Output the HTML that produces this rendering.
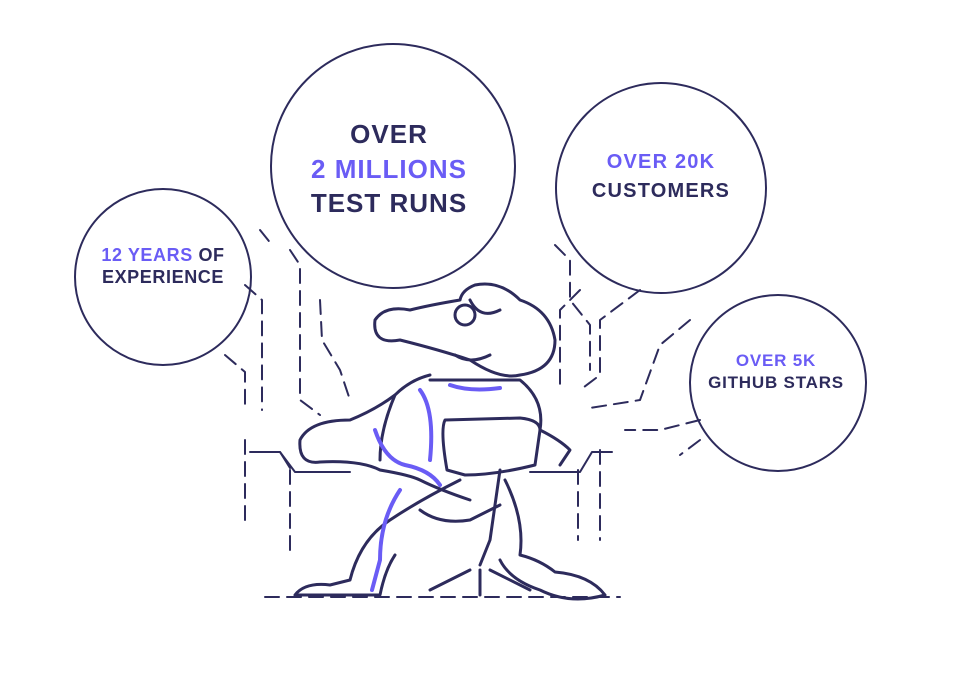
<!DOCTYPE html>
<html><head><meta charset="utf-8"><style>
html,body{margin:0;padding:0;background:#fff;width:960px;height:677px;overflow:hidden}
svg{display:block}
text{font-family:"Liberation Sans",sans-serif;font-weight:bold}
</style></head><body>
<svg width="960" height="677" viewBox="0 0 960 677" xmlns="http://www.w3.org/2000/svg">
<g fill="none" stroke="#2d2b5c" stroke-width="2" stroke-linecap="round" stroke-linejoin="round">
<circle cx="163" cy="277" r="88"/>
<circle cx="393" cy="166" r="122"/>
<circle cx="661" cy="188" r="105"/>
<circle cx="778" cy="383" r="88"/>
<g stroke-dasharray="14 8">
<path d="M245 285 L262 300 L262 410"/>
<path d="M225 355 L245 372 L245 410"/>
<path d="M290 250 L300 265 L300 400 L320 415"/>
<path d="M320 300 L322 340 L340 370 L350 400"/>
<path d="M260 230 L272 245"/>
<path d="M555 245 L570 260 L570 300 L590 325 L590 370"/>
<path d="M580 290 L560 310 L560 390"/>
<path d="M640 290 L600 320 L600 375 L580 390"/>
<path d="M690 320 L660 345 L640 400 L590 408"/>
<path d="M700 420 L660 430 L625 430"/>
<path d="M700 440 L680 455"/>
<path d="M245 440 L245 520"/><path d="M290 470 L290 550"/>
<path d="M578 470 L578 540"/><path d="M600 450 L600 540"/>
<path d="M265 597 L620 597"/>
</g>
<path d="M250 452 L280 452 L295 472 L350 472"/>
<path d="M280 452 L290 468"/>
<path d="M530 472 L580 472 L592 452 L612 452"/>
<g stroke-width="3">
<path d="M460 300 Q430 305 410 310 Q385 305 375 320 Q372 345 400 340 Q440 350 470 360 Q500 380 520 375 Q555 370 555 340 Q550 310 520 300 Q500 280 475 285 Q462 290 460 300"/>
<path d="M470 300 Q480 320 500 310"/>
<path d="M455 355 Q470 365 490 355"/>
<circle cx="465" cy="315" r="10"/>
<path d="M430 375 Q410 380 395 395 Q375 410 350 420 Q310 420 300 440 Q298 465 320 462 Q360 460 380 470 Q410 475 420 480 Q440 490 470 500"/>
<path d="M395 395 Q380 430 380 460"/>
<path d="M430 380 Q445 380 470 380 L520 380 Q545 400 540 430"/>
<path d="M445 420 Q440 430 447 470 L465 475 Q495 475 535 465 L540 430 Q540 420 520 418 Z"/>
<path d="M460 480 Q420 500 390 520 Q360 540 350 580 L330 585 Q305 582 295 595 L380 595 Q385 570 395 555"/>
<path d="M420 510 Q440 525 470 520 L500 505"/>
<path d="M500 470 L490 540 L480 565"/>
<path d="M470 570 L430 590 M480 570 L480 595 M490 570 L530 590"/>
<path d="M505 480 Q525 520 520 555 Q540 560 555 572 Q590 575 605 595 Q570 605 540 590 Q510 580 500 560"/>
<path d="M540 430 Q560 440 570 450 L560 465"/>
</g>
<g stroke="#6a5cf5" stroke-width="4">
<path d="M375 430 Q385 460 405 465 Q430 470 440 485"/>
<path d="M420 390 Q435 410 430 460"/>
<path d="M400 490 Q380 520 380 560 L372 590"/>
<path d="M450 385 Q470 392 500 388"/>
</g>
</g>
<text x="163" y="261" font-size="18" letter-spacing="0.6" text-anchor="middle" fill="#6a5cf5">12 YEARS <tspan fill="#2d2b5c">OF</tspan></text>
<text x="163" y="283" font-size="18" letter-spacing="0.6" text-anchor="middle" fill="#2d2b5c">EXPERIENCE</text>
<text x="389" y="143" font-size="26" letter-spacing="1" text-anchor="middle" fill="#2d2b5c">OVER</text>
<text x="389" y="178" font-size="26" letter-spacing="1" text-anchor="middle" fill="#6a5cf5">2 MILLIONS</text>
<text x="389" y="212" font-size="26" letter-spacing="1" text-anchor="middle" fill="#2d2b5c">TEST RUNS</text>
<text x="661" y="168" font-size="20" letter-spacing="1.2" text-anchor="middle" fill="#6a5cf5">OVER 20K</text>
<text x="661" y="197" font-size="20" letter-spacing="1.2" text-anchor="middle" fill="#2d2b5c">CUSTOMERS</text>
<text x="776" y="366" font-size="17" letter-spacing="0.8" text-anchor="middle" fill="#6a5cf5">OVER 5K</text>
<text x="776" y="388" font-size="17" letter-spacing="0.8" text-anchor="middle" fill="#2d2b5c">GITHUB STARS</text>
</svg>
</body></html>
